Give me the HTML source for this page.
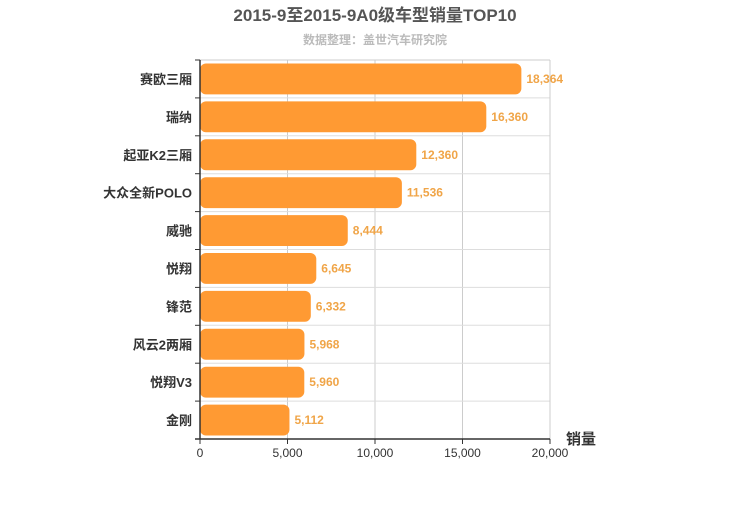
<!DOCTYPE html>
<html><head><meta charset="utf-8"><style>
body{margin:0;background:#fff;}
svg text{font-family:"Liberation Sans","Noto Sans CJK SC",sans-serif;}
</style></head><body>
<svg width="750" height="500">
<text x="375" y="21" text-anchor="middle" font-size="17" font-weight="bold" fill="#555">2015-9至2015-9A0级车型销量TOP10</text>
<text x="375" y="44" text-anchor="middle" font-size="12" font-weight="bold" fill="#bbb">数据整理：盖世汽车研究院</text>
<g id="grid"></g><g id="bars"></g><g id="axes"></g>
<text x="566" y="444" font-size="15" font-weight="bold" fill="#333">销量</text>
</svg>
<script>
const categories=["赛欧三厢","瑞纳","起亚K2三厢","大众全新POLO","威驰","悦翔","锋范","风云2两厢","悦翔V3","金刚"];
const values=[18364,16360,12360,11536,8444,6645,6332,5968,5960,5112];
const ticks=[0,5000,10000,15000,20000];
const NS="http://www.w3.org/2000/svg";
const L=200,R=550,T=60,B=439;
const x=v=>L+(v-ticks[0])/(ticks[ticks.length-1]-ticks[0])*(R-L);
const rowH=(B-T)/categories.length;
function mk(tag,attrs,parent){const e=document.createElementNS(NS,tag);for(const k in attrs)e.setAttribute(k,attrs[k]);parent.appendChild(e);return e;}
const grid=document.getElementById('grid'),bars=document.getElementById('bars'),axes=document.getElementById('axes');
ticks.forEach(t=>{
 const g=mk('line',{x1:x(t),x2:x(t),y1:T,y2:B,stroke:'#ccc','stroke-width':1},grid);
 
 
 const tl=mk('text',{x:x(t),y:B+18,'text-anchor':'middle','font-size':12,fill:'#333'},axes);
 tl.textContent=t.toLocaleString('en-US');
 
 
 const tk=mk('line',{x1:x(t),x2:x(t),y1:B,y2:B+5,stroke:'#333'},axes);
 
 
});
categories.forEach((c,i)=>{
 const y0=T+i*rowH;
 if(i>0){const h=mk('line',{x1:L,x2:R,y1:y0,y2:y0,stroke:'#ddd'},grid);
 
 }
 const r=mk('rect',{x:L,y:y0+3.5,width:x(values[i])-L,height:rowH-7,rx:6,fill:'#ff9a33'},bars);
 
 
 const v=mk('text',{x:x(values[i])+5,y:y0+rowH/2+4,'font-size':12,'font-weight':'bold',fill:'#f0a548'},bars);
 v.textContent=values[i].toLocaleString('en-US');
 
 
 const cl=mk('text',{x:L-8,y:y0+rowH/2+5,'text-anchor':'end','font-size':13,'font-weight':'bold',fill:'#333'},axes);
 cl.textContent=c;
 
 
 const yt=mk('line',{x1:L-5,x2:L,y1:y0,y2:y0,stroke:'#333'},axes);
 
 
});
mk('line',{x1:R,x2:R,y1:T,y2:B,stroke:'#ccc'},grid);
mk('line',{x1:L,x2:R,y1:T,y2:T,stroke:'#ccc'},grid);
const ya=mk('line',{x1:L,x2:L,y1:T,y2:B,stroke:'#333','stroke-width':1.5},axes);


const xa=mk('line',{x1:L-5,x2:R,y1:B,y2:B,stroke:'#333','stroke-width':1.5},axes);


</script>
</body></html>
